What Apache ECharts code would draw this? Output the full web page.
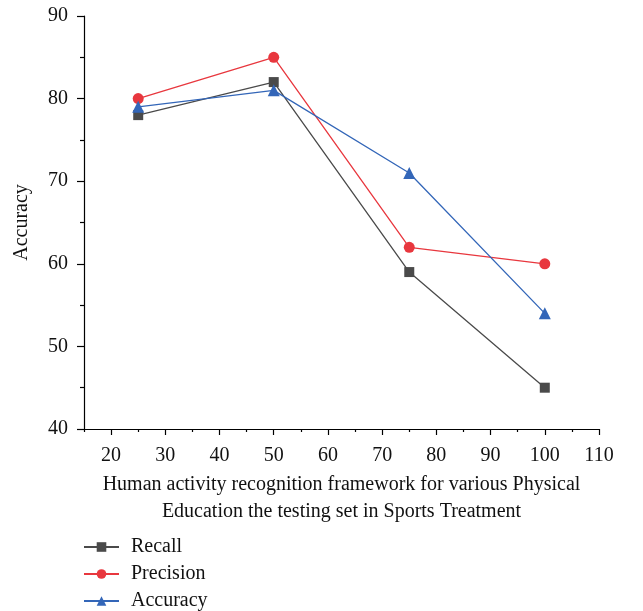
<!DOCTYPE html>
<html><head><meta charset="utf-8">
<script src="https://cdn.jsdelivr.net/npm/echarts@6/dist/echarts.min.js"></script>
<style>html,body{margin:0;padding:0;background:#fff}#c{width:643px;height:611px}</style>
</head><body><div id="c"></div>
<script>
var xValues = [25, 50, 75, 100];
var recall = [78, 82, 59, 45];
var precision = [80, 85, 62, 60];
var accuracy = [79, 81, 71, 54];
var xMajorTicks = [20, 30, 40, 50, 60, 70, 80, 90, 100, 110];
var xMinorTicks = [15, 25, 35, 45, 55, 65, 75, 85, 95, 105];

function pairs(v){ return xValues.map(function(x,i){ return [x, v[i]]; }); }
var font = 'Liberation Serif';
var chart = echarts.init(document.getElementById('c'), null, {renderer:'canvas'});
var axisLineStyle = {color:'#000', width:1.2};
chart.setOption({
  animation:false,
  textStyle:{fontFamily:font},
  grid:{left:84, right:44, top:16, bottom:182, containLabel:false},
  xAxis:[{
    type:'value', min:15, max:110,
    axisLine:{show:true, lineStyle:axisLineStyle},
    axisTick:{show:true, inside:false, length:6, customValues:xMajorTicks, lineStyle:{color:'#000', width:1.2}},
    axisLabel:{show:true, customValues:xMajorTicks, fontFamily:font, fontSize:20, color:'#111', margin:17},
    splitLine:{show:false},
    name:'Human activity recognition framework for various Physical\nEducation the testing set in Sports Treatment',
    nameLocation:'middle', nameGap:38,
    nameTextStyle:{fontFamily:font, fontSize:20, color:'#111', lineHeight:27, verticalAlign:'top'}
  },{
    type:'value', min:15, max:110, position:'bottom',
    axisLine:{show:false},
    axisTick:{show:true, length:3, customValues:xMinorTicks, lineStyle:{color:'#000', width:1.2}},
    axisLabel:{show:false}, splitLine:{show:false}
  }],
  yAxis:{
    type:'value', min:40, max:90, interval:10,
    axisLine:{show:true, lineStyle:axisLineStyle},
    axisTick:{show:true, length:7, lineStyle:{color:'#000', width:1.2}},
    minorTick:{show:true, splitNumber:2, length:4, lineStyle:{color:'#000', width:1.2}},
    axisLabel:{fontFamily:font, fontSize:20, color:'#111', margin:16},
    splitLine:{show:false},
    name:'Accuracy', nameLocation:'middle', nameGap:52, nameRotate:90,
    nameTextStyle:{fontFamily:font, fontSize:20, color:'#111'}
  },
  legend:{
    orient:'vertical', left:83, top:537, height:74, padding:0, itemGap:7, itemWidth:35, itemHeight:12,
    textStyle:{fontFamily:font, fontSize:20, color:'#111', lineHeight:20, padding:[0,0,0,7]},
    data:['Recall','Precision','Accuracy']
  },
  series:[
    {name:'Recall', type:'line', data:pairs(recall), symbol:'rect', symbolSize:10,
     itemStyle:{color:'#4a4a4a'}, lineStyle:{color:'#4a4a4a', width:1.3}},
    {name:'Precision', type:'line', data:pairs(precision), symbol:'circle', symbolSize:11,
     itemStyle:{color:'#e8373e'}, lineStyle:{color:'#e8373e', width:1.3}},
    {name:'Accuracy', type:'line', data:pairs(accuracy), symbol:'triangle', symbolSize:12,
     itemStyle:{color:'#3366b8'}, lineStyle:{color:'#3366b8', width:1.3}}
  ]
});
</script></body></html>
